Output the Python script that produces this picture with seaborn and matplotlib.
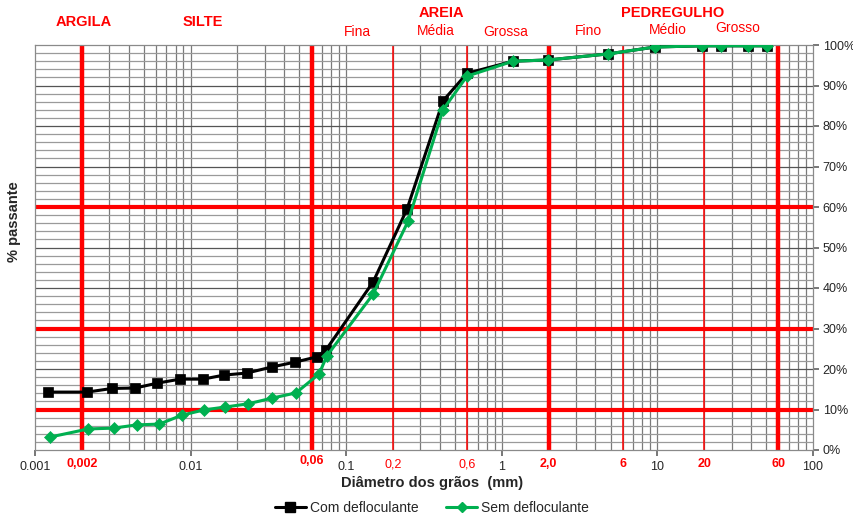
import numpy as np
import pandas as pd
import matplotlib
matplotlib.use("Agg")
import matplotlib.pyplot as plt
from matplotlib.lines import Line2D
import seaborn as sns

# Grain size distribution (sieve + sedimentation)
diam_com = [0.00121, 0.00216, 0.00313, 0.0044, 0.0061, 0.00855, 0.0120, 0.0164,
            0.0230, 0.0333, 0.0469, 0.0649, 0.0741, 0.149, 0.246, 0.419, 0.597,
            1.18, 1.98, 4.82, 9.66, 19.4, 25.6, 38.2, 50.6]
pass_com = [14.3, 14.3, 15.2, 15.3, 16.5, 17.5, 17.5, 18.5, 19.0, 20.5, 21.7,
            23.0, 24.7, 41.5, 59.5, 86.2, 93.0, 96.0, 96.3, 97.8, 99.5, 99.8,
            99.8, 99.8, 99.8]

diam_sem = [0.00125, 0.0022, 0.0032, 0.0045, 0.0063, 0.0088, 0.0122, 0.0166,
            0.0234, 0.0333, 0.0476, 0.067, 0.075, 0.149, 0.25, 0.419, 0.597,
            1.18, 1.98, 4.82, 9.66, 19.4, 25.6, 38.2, 50.6]
pass_sem = [3.2, 5.2, 5.4, 6.2, 6.4, 8.6, 9.9, 10.6, 11.4, 12.8, 14.1, 18.8,
            23.2, 38.5, 56.5, 84.0, 92.3, 96.0, 96.3, 97.8, 99.5, 99.8, 99.8,
            99.8, 99.8]

# Classification limits (mm)
limits_major = [0.002, 0.06, 2.0, 60]
limits_minor = [0.2, 0.6, 6, 20]
limit_labels = {0.002: "0,002", 0.06: "0,06", 0.2: "0,2", 0.6: "0,6",
                2.0: "2,0", 6: "6", 20: "20", 60: "60"}
decade_ticks = [0.001, 0.01, 0.1, 1, 10, 100]
decade_labels = ["0.001", "0.01", "0.1", "1", "10", "100"]
pct_lines = [10, 30, 60]
pct_ticks = list(range(0, 101, 10))

sns.set_theme(style="white")
plt.rcParams["font.family"] = ["Liberation Sans", "DejaVu Sans"]

df = pd.concat([
    pd.DataFrame({"d": diam_com, "p": pass_com, "serie": "Com defloculante"}),
    pd.DataFrame({"d": diam_sem, "p": pass_sem, "serie": "Sem defloculante"}),
])

fig = plt.figure(figsize=(8.54, 5.18), dpi=100)
ax = fig.add_axes([35 / 854, 1 - 450 / 518, (813 - 35) / 854, (450 - 45) / 518])
ax.set_xscale("log")
ax.set_xlim(0.001, 100)
ax.set_ylim(0, 100)

# background grid: every unit of each decade, every 2 %
for e in range(-3, 2):
    for m in range(1, 10):
        v = m * 10.0 ** e
        if v > 0.001:
            ax.axvline(v, color="#7a7a7a", lw=0.9, zorder=1)
for y in range(2, 100, 2):
    ax.axhline(y, color="#9a9a9a" if y % 10 else "#555555", lw=0.9, zorder=1)

for v in limits_major:
    ax.axvline(v, color="#ff0000", lw=3.2, zorder=2)
for v in limits_minor:
    ax.axvline(v, color="#ff0000", lw=1.1, zorder=2)
for y in pct_lines:
    ax.axhline(y, color="#ff0000", lw=3.0, zorder=2)

colors = {"Com defloculante": "#000000", "Sem defloculante": "#00b050"}
markers = {"Com defloculante": "s", "Sem defloculante": "D"}
sns.lineplot(data=df, x="d", y="p", hue="serie", style="serie",
             palette=colors, markers=markers, dashes=False, estimator=None,
             sort=False, lw=2.2, markersize=7, markeredgewidth=0.5,
             legend=False, ax=ax, zorder=5)
for ln, s in zip(ax.lines[-2:], ["Com defloculante", "Sem defloculante"]):
    ln.set_markeredgecolor(colors[s])
    if s == "Sem defloculante":
        ln.set_markersize(6)

for sp in ax.spines.values():
    sp.set_color("#8a8a8a")
    sp.set_linewidth(0.9)

ax.set_xticks(decade_ticks)
ax.set_xticklabels(decade_labels)
ax.xaxis.set_minor_locator(matplotlib.ticker.NullLocator())
ax.tick_params(axis="x", direction="out", length=4, color="#666666",
               labelsize=9, pad=4, bottom=True)
ax.yaxis.tick_right()
ax.set_yticks(pct_ticks)
ax.set_yticklabels([f"{v}%" for v in pct_ticks])
ax.tick_params(axis="y", direction="out", length=4, color="#666666",
               labelsize=9, pad=3, right=True, left=False)
ax.set_xlabel("")
ax.set_ylabel("")

tr = ax.get_xaxis_transform()
for v, lab in limit_labels.items():
    bold = v in (0.002, 0.06, 2.0, 6, 20, 60)
    ax.text(v, -0.02 if v != 0.06 else -0.012, lab, transform=tr, color="#ff0000",
            ha="center", va="top", fontsize=9,
            fontweight="bold" if bold else "normal")

# soil fraction headings
fig.text(84 / 854, 1 - 22 / 518, "ARGILA", color="#ff0000", fontsize=10.5,
         fontweight="bold", ha="center", va="center")
fig.text(203 / 854, 1 - 22 / 518, "SILTE", color="#ff0000", fontsize=10.5,
         fontweight="bold", ha="center", va="center")
fig.text(441 / 854, 1 - 13 / 518, "AREIA", color="#ff0000", fontsize=10.5,
         fontweight="bold", ha="center", va="center")
fig.text(673 / 854, 1 - 13 / 518, "PEDREGULHO", color="#ff0000", fontsize=10.5,
         fontweight="bold", ha="center", va="center")
for x, y, t in [(357, 32, "Fina"), (436, 31, "Média"), (506, 32, "Grossa"),
                (588, 31, "Fino"), (668, 30, "Médio"), (738, 28, "Grosso")]:
    fig.text(x / 854, 1 - y / 518, t, color="#ff0000", fontsize=10,
             ha="center", va="center")

fig.text(14 / 854, 1 - 222 / 518, "% passante", rotation=90, fontsize=10.5,
         fontweight="bold", ha="center", va="center")
fig.text(432 / 854, 1 - 483 / 518, "Diâmetro dos grãos  (mm)", fontsize=10.5,
         fontweight="bold", ha="center", va="center")

handles = [Line2D([], [], color="#000000", lw=2.2, marker="s", markersize=7),
           Line2D([], [], color="#00b050", lw=2.2, marker="D", markersize=5)]
fig.legend(handles, ["Com defloculante", "Sem defloculante"], loc="center",
           bbox_to_anchor=(432 / 854, 1 - 508 / 518), ncol=2, frameon=False,
           fontsize=10, handlelength=2.2, handletextpad=0.3, columnspacing=2.0)

fig.savefig("out.png", dpi=100)
